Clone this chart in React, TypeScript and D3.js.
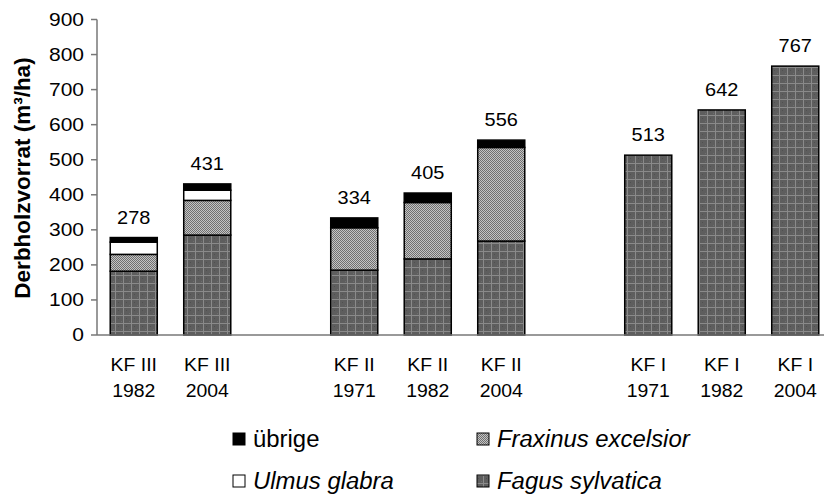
import React from "react";
import * as d3 from "d3";

const barGroups = ["KF III", "KF III", "KF II", "KF II", "KF II", "KF I", "KF I", "KF I"];
const barYears = ["1982", "2004", "1971", "1982", "2004", "1971", "1982", "2004"];
const slotIds = ["b0", "b1", "gap1", "b2", "b3", "b4", "gap2", "b5", "b6", "b7"];
const barIds = ["b0", "b1", "b2", "b3", "b4", "b5", "b6", "b7"];

const fagus = [182, 285, 185, 217, 268, 513, 642, 767];
const fraxinus = [48, 99, 121, 161, 267, 0, 0, 0];
const ulmus = [35, 29, 0, 0, 0, 0, 0, 0];
const uebrige = [13, 18, 28, 27, 21, 0, 0, 0];
const totals = [278, 431, 334, 405, 556, 513, 642, 767];

const yTicks = [0, 100, 200, 300, 400, 500, 600, 700, 800, 900];
const seriesKeys = ["fagus", "fraxinus", "ulmus", "uebrige"];
const legendItems = [
  { key: "uebrige", label: "übrige", italic: false },
  { key: "fraxinus", label: "Fraxinus excelsior", italic: true },
  { key: "ulmus", label: "Ulmus glabra", italic: true },
  { key: "fagus", label: "Fagus sylvatica", italic: true },
];

const FONT = "'Liberation Sans', Arial, Helvetica, sans-serif";

export default function App() {
  const W = 824, H = 497;
  const x = d3.scaleBand<string>().domain(slotIds).range([97, 832]).padding(0);
  const barW = x.step() * 0.64;
  const y = d3.scaleLinear().domain([0, 900]).range([335, 19.5]);

  const table = barIds.map((id, i) => ({
    id,
    fagus: fagus[i],
    fraxinus: fraxinus[i],
    ulmus: ulmus[i],
    uebrige: uebrige[i],
  }));
  const stacked = d3.stack<any>().keys(seriesKeys)(table);

  const fills: Record<string, string> = {
    fagus: "url(#patFagus)",
    fraxinus: "url(#patFrax)",
    ulmus: "#ffffff",
    uebrige: "#000000",
  };

  const cx = (id: string) => (x(id) as number) + x.step() / 2;

  return (
    <svg width={W} height={H} style={{ position: "absolute", left: 0, top: 0, background: "#fff" }} fontFamily={FONT}>
      <defs>
        <pattern id="patFagus" width="8" height="8" patternUnits="userSpaceOnUse">
          <rect width="8" height="8" fill="#5e5e5e" />
          <rect x="0" y="3" width="8" height="1" fill="#8a8a8a" />
          <rect x="3" y="0" width="1" height="8" fill="#8a8a8a" />
          <rect x="6" y="6" width="1" height="1" fill="#505050" />
          <rect x="1" y="1" width="1" height="1" fill="#6e6e6e" />
        </pattern>
        <pattern id="patFrax" width="2" height="2" patternUnits="userSpaceOnUse">
          <rect width="2" height="2" fill="#c4c4c4" />
          <rect x="0" y="0" width="1" height="1" fill="#707070" />
          <rect x="1" y="1" width="1" height="1" fill="#707070" />
        </pattern>
      </defs>
      <rect width={W} height={H} fill="#fff" />

      {/* bars */}
      {stacked.map((s) => (
        <g key={s.key}>
          {s.map((d, i) => {
            const h = y(d[0]) - y(d[1]);
            if (h <= 0) return null;
            return (
              <rect
                key={i}
                x={cx(barIds[i]) - barW / 2}
                y={y(d[1])}
                width={barW}
                height={h}
                fill={fills[s.key]}
                stroke="#000"
                strokeWidth={1.5}
              />
            );
          })}
        </g>
      ))}

      {/* axes */}
      <line x1={97} x2={97} y1={y(0)} y2={y(900)} stroke="#777" strokeWidth={1.5} />
      <line x1={97} x2={W} y1={y(0)} y2={y(0)} stroke="#777" strokeWidth={1.5} />
      {yTicks.map((t) => (
        <g key={t}>
          <line x1={91} x2={97} y1={y(t)} y2={y(t)} stroke="#777" strokeWidth={1.5} />
          <text
            transform={`translate(84,${y(t) + 6.3}) scale(1.2,1)`}
            textAnchor="end"
            fontSize={17.5}
            fill="#000"
          >
            {t}
          </text>
        </g>
      ))}

      {/* y title */}
      <text
        transform={`translate(30,${178}) rotate(-90)`}
        textAnchor="middle"
        fontSize={22.5}
        fontWeight="bold"
        fill="#000"
      >
        Derbholzvorrat (m³/ha)
      </text>

      {/* value labels */}
      {barIds.map((id, i) => (
        <text
          key={id}
          transform={`translate(${cx(id)},${y(totals[i]) - 14}) scale(1.05,1)`}
          textAnchor="middle"
          fontSize={19}
          fill="#000"
        >
          {totals[i]}
        </text>
      ))}

      {/* category labels */}
      {barIds.map((id, i) => (
        <g key={id}>
          <text transform={`translate(${cx(id)},370.7) scale(1.05,1)`} textAnchor="middle" fontSize={18.5} fill="#000">
            {barGroups[i]}
          </text>
          <text transform={`translate(${cx(id)},397.3) scale(1.05,1)`} textAnchor="middle" fontSize={18.5} fill="#000">
            {barYears[i]}
          </text>
        </g>
      ))}

      {/* legend */}
      {legendItems.map((it, i) => {
        const col = i % 2, row = Math.floor(i / 2);
        const lx = col === 0 ? 233 : 477;
        const ly = row === 0 ? 439 : 481;
        return (
          <g key={it.key}>
            <rect x={lx} y={ly - 6} width={12} height={12} fill={fills[it.key]} stroke="#000" strokeWidth={1} />
            <text
              transform={`translate(${lx + 20},${ly + 8}) scale(1.04,1)`}
              fontSize={23}
              fontStyle={it.italic ? "italic" : "normal"}
              fill="#000"
            >
              {it.label}
            </text>
          </g>
        );
      })}
    </svg>
  );
}
